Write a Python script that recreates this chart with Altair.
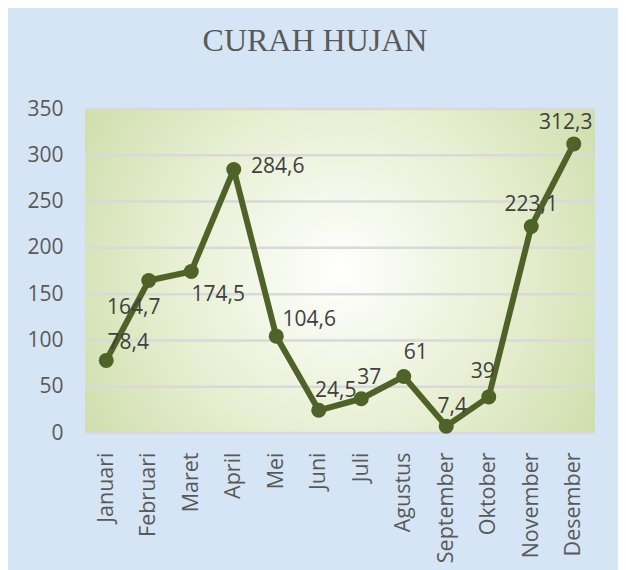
import altair as alt
import pandas as pd

# ---- data ----
MONTHS = ["Januari", "Februari", "Maret", "April", "Mei", "Juni", "Juli",
          "Agustus", "September", "Oktober", "November", "Desember"]
RAINFALL = [78.4, 164.7, 174.5, 284.6, 104.6, 24.5, 37, 61, 7.4, 39, 223.1, 312.3]
Y_TICKS = [0, 50, 100, 150, 200, 250, 300, 350]
TITLE = "CURAH HUJAN"

df = pd.DataFrame({
    "bulan": MONTHS,
    "curah": RAINFALL,
    "label": [f"{v:g}".replace(".", ",") for v in RAINFALL],
})
grid_df = pd.DataFrame({"tick": Y_TICKS})

# ---- style ----
LINE_COLOR = "#4F6228"
TEXT_COLOR = "#404040"
AXIS_COLOR = "#595959"
FONT = "Open Sans"
FS = 21

# label placement (dx, dy) in pixels, per month
LABEL_OFFSETS = {
    "Januari": (22, -17), "Februari": (-15, 27), "Maret": (27, 24),
    "April": (44, -3), "Mei": (33, -16), "Juni": (17, -19),
    "Juli": (8, -21), "Agustus": (12, -24), "September": (6, -19),
    "Oktober": (-6, -25), "November": (0, -21), "Desember": (-8, -21),
}

x_enc = alt.X("bulan:N", sort=MONTHS,
              scale=alt.Scale(type="point", padding=0.5),
              axis=alt.Axis(title=None, labelAngle=-90, ticks=False, domain=False,
                            labelPadding=19, labelFont=FONT, labelFontSize=21.5,
                            labelColor=AXIS_COLOR, grid=False))
y_enc = alt.Y("curah:Q", scale=alt.Scale(domain=[0, 350], nice=False, zero=True),
              axis=alt.Axis(title=None, values=Y_TICKS, ticks=False, domain=False,
                            labelPadding=22, labelFont=FONT, labelFontSize=FS,
                            labelColor=AXIS_COLOR, grid=False))

base = alt.Chart(df)

bg = alt.Chart(df).mark_rect(
    fill=alt.RadialGradient(
        gradient="radial",
        x1=0.5, y1=0.5, r1=0, x2=0.5, y2=0.5, r2=0.72,
        stops=[alt.GradientStop(offset=0, color="#FFFFFF"),
               alt.GradientStop(offset=0.45, color="#E8EFD3"),
               alt.GradientStop(offset=1, color="#C3D699")],
    )
).encode(x=alt.value(0), x2=alt.value("width"), y=alt.value(0), y2=alt.value("height"))

grid = alt.Chart(grid_df).mark_rule(color="#D9D9D9", strokeWidth=2.5).encode(
    y=alt.Y("tick:Q", scale=alt.Scale(domain=[0, 350], nice=False)),
    x=alt.value(0), x2=alt.value("width"))

line = base.mark_line(color=LINE_COLOR, strokeWidth=6, strokeJoin="round").encode(x=x_enc, y=y_enc)
points = base.mark_circle(color=LINE_COLOR, size=225, opacity=1).encode(x=x_enc, y=y_enc)

texts = []
for m, (dx, dy) in LABEL_OFFSETS.items():
    texts.append(
        base.transform_filter(alt.datum.bulan == m)
        .mark_text(font=FONT, fontSize=FS, color=TEXT_COLOR, dx=dx, dy=dy,
                   align="center", baseline="middle")
        .encode(x=x_enc, y=y_enc, text="label:N")
    )

chart = alt.layer(bg, grid, line, points, *texts).properties(
    width=510, height=324,
    autosize=alt.AutoSizeParams(type="none"),
    padding={"left": 77, "top": 101, "right": 23, "bottom": 137},
    background="#D6E5F5",
    title=alt.TitleParams(TITLE, font="Liberation Serif", fontSize=32,
                          fontWeight="normal", color=AXIS_COLOR,
                          anchor="middle", offset=40, dx=-25),
).configure_view(stroke=None)

chart.save("out.html", embed_options={"renderer": "svg", "actions": False})
